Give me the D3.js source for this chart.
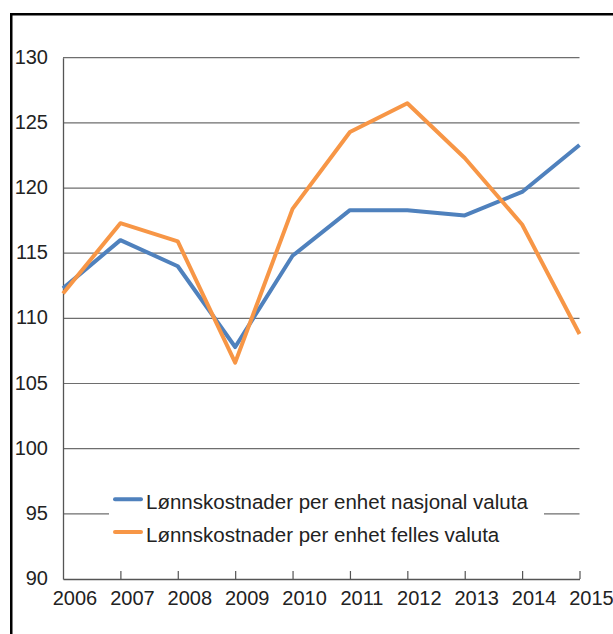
<!DOCTYPE html>
<html>
<head>
<meta charset="utf-8">
<script src="https://cdn.jsdelivr.net/npm/d3@7"></script>
<style>
  body { margin: 0; background: #fff; }
  svg { display: block; font-family: "Liberation Sans", Arial, sans-serif; }
</style>
</head>
<body>
<svg id="chart" width="613" height="634"></svg>
<script>
// values
const years = [2006, 2007, 2008, 2009, 2010, 2011, 2012, 2013, 2014, 2015];
const nasjonal = [112.3, 116.0, 114.0, 107.8, 114.8, 118.3, 118.3, 117.9, 119.7, 123.3];
const felles = [111.9, 117.3, 115.9, 106.6, 118.4, 124.3, 126.5, 122.3, 117.2, 108.8];
const yTicks = [90, 95, 100, 105, 110, 115, 120, 125, 130];
const seriesNames = ['Lønnskostnader per enhet nasjonal valuta', 'Lønnskostnader per enhet felles valuta'];
const seriesColors = ['#4f81bd', '#f79646'];

const svg = d3.select('#chart');

// frame around the figure (only top and left sides are visible)
svg.append('rect')
    .attr('x', 11.25).attr('y', 14.25)
    .attr('width', 700).attr('height', 700)
    .attr('fill', 'none')
    .attr('stroke', '#000')
    .attr('stroke-width', 2.5);

const plotLeft = 63, plotRight = 579.5, plotTop = 57.7, plotBottom = 579;

const x = d3.scaleLinear().domain([2006, 2015]).range([plotLeft, plotRight]);
const y = d3.scaleLinear().domain([90, 130]).range([plotBottom, plotTop]);

// gridlines
svg.append('g')
    .selectAll('line')
    .data(yTicks.filter(d => d > 90))
    .join('line')
    .attr('x1', plotLeft).attr('x2', plotRight)
    .attr('y1', d => y(d)).attr('y2', d => y(d))
    .attr('stroke', '#6e6e6e')
    .attr('stroke-width', 1.2);

// y axis
const yAxis = svg.append('g')
    .attr('transform', `translate(${plotLeft},0)`)
    .call(d3.axisLeft(y).tickValues(yTicks).tickSize(0).tickPadding(15));
yAxis.select('.domain').attr('stroke', '#555').attr('stroke-width', 1.3);
yAxis.selectAll('text')
    .attr('font-size', 20)
    .attr('fill', '#222')
    .attr('font-family', '"Liberation Sans", Arial, sans-serif')
    .attr('dy', '0.28em');

// x axis, ticks point inward, labels shifted a bit to the right
const xAxis = svg.append('g')
    .attr('transform', `translate(0,${plotBottom})`)
    .call(d3.axisBottom(x).tickValues(years).tickFormat(d3.format('d')).tickSizeInner(-8).tickSizeOuter(0).tickPadding(0));
xAxis.select('.domain').attr('stroke', '#555').attr('stroke-width', 1.3);
xAxis.selectAll('.tick line').attr('stroke', '#555').attr('stroke-width', 1.2)
    .attr('display', d => d === 2006 ? 'none' : null);
xAxis.selectAll('text')
    .attr('font-size', 20)
    .attr('fill', '#222')
    .attr('font-family', '"Liberation Sans", Arial, sans-serif')
    .attr('x', 11.5)
    .attr('y', 26)
    .attr('dy', 0);

// lines
const line = d3.line()
    .x((d, i) => x(years[i]))
    .y(d => y(d));

[nasjonal, felles].forEach((vals, i) => {
    svg.append('path')
        .datum(vals)
        .attr('d', line)
        .attr('fill', 'none')
        .attr('stroke', seriesColors[i])
        .attr('stroke-width', 4)
        .attr('stroke-linejoin', 'round');
});

// legend on white box that hides the 95 gridline
const legend = svg.append('g');
legend.append('rect')
    .attr('x', 109).attr('y', 484)
    .attr('width', 435).attr('height', 70)
    .attr('fill', '#fff');

seriesNames.forEach((name, i) => {
    const ly = 499.3 + i * 32.7;
    legend.append('line')
        .attr('x1', 115).attr('x2', 141)
        .attr('y1', ly).attr('y2', ly)
        .attr('stroke', seriesColors[i])
        .attr('stroke-width', 4)
        .attr('stroke-linecap', 'round');
    legend.append('text')
        .attr('x', 146)
        .attr('y', ly + 9.8)
        .attr('font-size', 20.5)
        .attr('fill', '#222')
        .text(name);
});
</script>
</body>
</html>
